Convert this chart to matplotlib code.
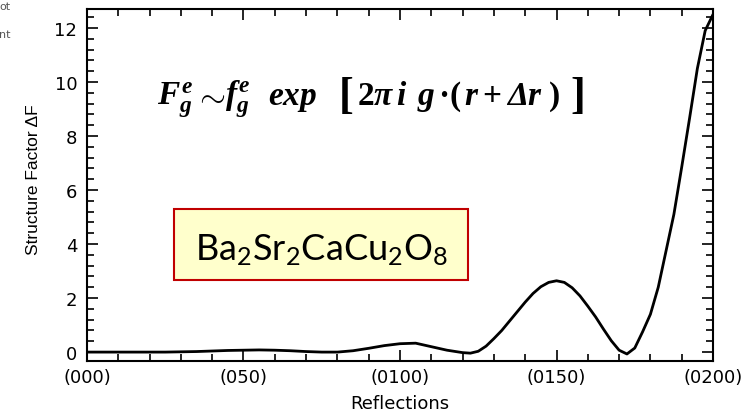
import numpy as np
import matplotlib
matplotlib.use("Agg")
import matplotlib.pyplot as plt
from matplotlib.patches import Rectangle
from matplotlib.ticker import MultipleLocator

# values
refl = [0, 5, 10, 15, 20, 25, 30, 35, 40, 45, 50, 55, 60, 65, 70, 75, 80,
        85, 90, 95, 100, 105, 110, 115, 120, 122.5, 125, 127.5, 130, 132.5,
        135, 137.5, 140, 142.5, 145, 147.5, 150, 152.5, 155, 157.5, 160,
        162.5, 165, 167.5, 170, 172.5, 175, 177.5, 180, 182.5, 185, 187.5,
        190, 192.5, 195, 197.5, 200]
dF = [0.0, 0.0, 0.0, 0.0, 0.0, 0.0, 0.01, 0.02, 0.04, 0.06, 0.07, 0.08, 0.07,
      0.05, 0.02, 0.0, 0.0, 0.05, 0.14, 0.24, 0.31, 0.33, 0.2, 0.07, -0.02,
      -0.04, 0.03, 0.22, 0.5, 0.8, 1.15, 1.5, 1.85, 2.17, 2.42, 2.58, 2.64,
      2.58, 2.38, 2.08, 1.7, 1.3, 0.85, 0.42, 0.07, -0.07, 0.15, 0.75, 1.4,
      2.4, 3.75, 5.1, 6.85, 8.65, 10.5, 11.9, 12.5]

xtick_pos = [0, 50, 100, 150, 200]
xtick_lab = ["(000)", "(050)", "(0100)", "(0150)", "(0200)"]
ytick_pos = [0, 2, 4, 6, 8, 10, 12]

# formula pieces and the pixel x where each one starts
formula = [(r'$F_g^e$', 157), (r'$\sim$', 194), (r'$f_g^e$', 225),
           (r'$exp$', 268),
           (r'$2\pi\, i\;\, g\,·(\,r+\mathbf{\Delta} r\;)$', 357)]
compound = r'$\mathsf{Ba_2Sr_2CaCu_2O_8}$'

plt.rcParams['mathtext.fontset'] = 'custom'
plt.rcParams['mathtext.rm'] = 'Liberation Serif:bold'
plt.rcParams['mathtext.it'] = 'Liberation Serif:italic:bold'
plt.rcParams['mathtext.bf'] = 'Liberation Serif:italic:bold'
plt.rcParams['mathtext.sf'] = 'Lato'

W, H = 755, 414


def px(x, y):
    return x / W, 1 - y / H


def main():
    fig = plt.figure(figsize=(W / 100, H / 100), dpi=100)
    ax = fig.add_axes([0.1152, 0.1256, 0.8292, 0.8502])

    ax.plot(refl, dF, color='black', lw=2.0, solid_capstyle='round',
            solid_joinstyle='round')

    ax.set_xlim(0, 200)
    ax.set_ylim(-0.33, 12.7)
    ax.set_xticks(xtick_pos)
    ax.set_xticklabels(xtick_lab)
    ax.set_yticks(ytick_pos)
    ax.xaxis.set_minor_locator(MultipleLocator(10))
    ax.yaxis.set_minor_locator(MultipleLocator(0.4))
    ax.tick_params(which='both', direction='in', top=True, right=True,
                   width=1.2, labelsize=13)
    ax.tick_params(which='major', length=8)
    ax.tick_params(which='minor', length=5)
    ax.tick_params(axis='x', pad=5)
    ax.tick_params(axis='y', pad=7)
    for s in ax.spines.values():
        s.set_linewidth(1.5)

    ax.set_xlabel('Reflections', fontsize=13, labelpad=6)
    ax.set_ylabel('Structure Factor \u0394F', fontsize=12.5,
                  family='Liberation Sans')
    ax.yaxis.set_label_coords(-0.073, 0.517)

    # formula, placed piece by piece
    for txt, x0 in formula:
        fig.text(*px(x0, 105), txt, fontsize=24, ha='left', va='baseline')
    for br, x0 in [('[', 339), (']', 570)]:
        fig.text(*px(x0, 108), br, fontsize=32, ha='left', va='baseline',
                 family='Liberation Serif', weight='bold')

    # compound label in a box
    x0, y0 = px(174, 281)
    x1, y1 = px(468, 210)
    fig.patches.append(Rectangle((x0, y0), x1 - x0, y1 - y0,
                                 transform=fig.transFigure, fc='#FFFFCC',
                                 ec='#C00000', lw=1.5, zorder=5))
    fig.text(*px(195, 260), compound, fontsize=26, ha='left',
             va='baseline', zorder=6)

    # clipped text from the neighbouring slide
    fig.text(*px(10, 7), 'ot', fontsize=8, color='#555555',
             ha='right', va='center')
    fig.text(*px(10, 35), 'nt', fontsize=8, color='#555555',
             ha='right', va='center')

    fig.savefig('out.png', dpi=100)


if __name__ == "__main__":
    main()
